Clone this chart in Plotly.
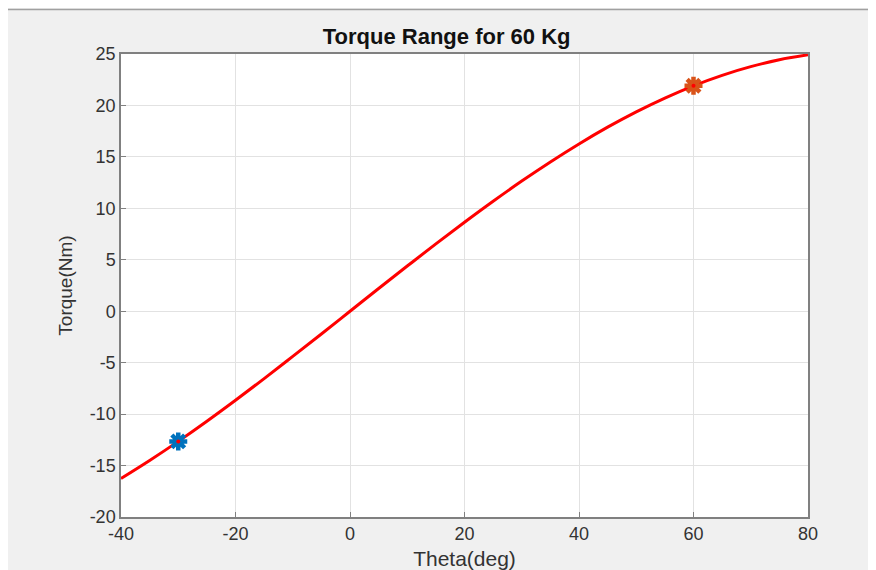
import plotly.graph_objects as go

theta_deg = [-40, -35, -30, -25, -20, -15, -10, -5, 0, 5, 10, 15, 20, 25, 30, 35, 40,
             45, 50, 55, 60, 65, 70, 75, 80]
torque_nm = [-16.26, -14.51, -12.65, -10.69, -8.65, -6.55, -4.39, -2.21, 0.0, 2.21, 4.39, 6.55, 8.65,
             10.69, 12.65, 14.51, 16.26, 17.89, 19.38, 20.72, 21.91, 22.93, 23.77, 24.44, 24.92]
min_point = (-30, -12.65)
max_point = (60, 21.91)
x_ticks = [-40, -20, 0, 20, 40, 60, 80]
y_ticks = [-20, -15, -10, -5, 0, 5, 10, 15, 20, 25]

OFF = 8  # page body margin
W, H = 876, 570
L, R, T, B = 121 - OFF, 808 - OFF, 54 - OFF, 517 - OFF

def px(x):
    return (x - L) / (R - L)

def py(y):
    return (B - y) / (B - T)

FONT = "Liberation Sans, Arial, Helvetica"
fig = go.Figure()
fig.add_trace(go.Scatter(x=theta_deg, y=torque_nm, mode="lines",
                         line=dict(color="#ff0000", width=3, shape="spline"), showlegend=False))
for pt, col in ((min_point, "#0072BD"), (max_point, "#D95319")):
    fig.add_trace(go.Scatter(x=[pt[0]], y=[pt[1]], mode="markers",
                             marker=dict(symbol="asterisk-open", size=15, color=col,
                                         line=dict(color=col, width=4.5)),
                             showlegend=False))
fig.add_trace(go.Scatter(x=[min_point[0], max_point[0]], y=[min_point[1], max_point[1]], mode="markers",
                         marker=dict(symbol="circle", size=4, color="#ff0000"), showlegend=False))

axis_common = dict(showgrid=True, gridcolor="#e2e2e2", gridwidth=1, zeroline=False,
                   showline=True, linecolor="#808080", linewidth=1.5, mirror=True,
                   ticks="inside", ticklen=5, tickcolor="#808080",
                   tickfont=dict(family=FONT, size=18, color="#333333"))

fig.update_layout(
    width=W, height=H,
    margin=dict(l=L, r=W - R, t=T, b=H - B),
    paper_bgcolor="#f0f0f0", plot_bgcolor="white",
    title=dict(text="<b>Torque Range for 60 Kg</b>", x=px(465 - OFF), xanchor="center",
               y=1 - (36 - OFF) / H, yanchor="middle",
               font=dict(family=FONT, size=22, color="#111111")),
    xaxis=dict(range=[-40, 80], tickvals=x_ticks, ticktext=[str(v) for v in x_ticks],
               title=dict(text="Theta(deg)", standoff=8, font=dict(family=FONT, size=21, color="#333333")),
               **axis_common),
    yaxis=dict(range=[-20, 25], tickvals=y_ticks, ticktext=[str(v) for v in y_ticks],
               title=dict(text="Torque(Nm)", standoff=12, font=dict(family=FONT, size=19, color="#333333")),
               **axis_common),
    shapes=[
        dict(type="line", xref="paper", yref="paper", x0=px(0), x1=px(W), y0=py(1.5), y1=py(1.5),
             line=dict(color="#a0a0a0", width=1.5), layer="below"),
    ],
)

fig.write_html("out.html")
